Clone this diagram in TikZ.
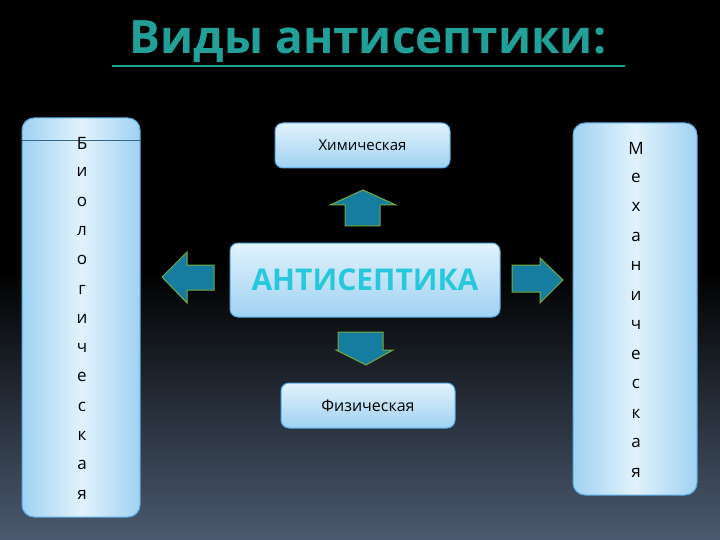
\documentclass[tikz,border=0pt]{standalone}
\usepackage{fontspec}
\setmainfont{Open Sans}
\definecolor{ttl}{RGB}{32,160,150}
\definecolor{arrf}{RGB}{22,125,160}
\definecolor{arrd}{RGB}{120,170,60}
\definecolor{bxt}{RGB}{225,242,252}
\definecolor{bxb}{RGB}{160,210,242}
\definecolor{bxd}{RGB}{90,170,225}
\definecolor{bgb}{RGB}{75,90,112}
\definecolor{ctxt}{RGB}{40,200,220}
\tikzset{
 box/.style={rounded corners=8pt, draw=bxd, line width=1pt, top color=bxt, bottom color=bxb},
 side/.style={rounded corners=12pt, draw=bxd, line width=1pt, left color=bxb, right color=bxb, middle color=bxt},
 arr/.style={fill=arrf, draw=arrd, line width=1pt},
 lt/.style={font=\fontsize{17}{17}\selectfont, text=black}
}
\begin{document}
\begin{tikzpicture}[x=1pt,y=-1pt]
\useasboundingbox (0,0) rectangle (720,540);
\shade[top color=black, bottom color=bgb, middle color=black] (0,0) rectangle (720,540);
\fill[black] (0,0) rectangle (720,270);
\node[font=\bfseries\fontsize{46}{46}\selectfont, text=ttl] (title) at (368,42) {Виды антисептики:};
\draw[ttl, line width=2.5pt] (112,66) -- (625,66);
% boxes
\draw[side] (22,118) rectangle (140,517);
\draw[bxd!60!black, line width=0.6pt] (22,140) -- (140,140);
\draw[side] (573,123) rectangle (697,495);
\node[box, minimum width=175pt, minimum height=45pt, font=\fontsize{15}{15}\selectfont] (chem) at (362.5,145.5) {Химическая};
\node[box, minimum width=270pt, minimum height=74pt, font=\bfseries\fontsize{30}{30}\selectfont, text=ctxt] (center) at (365,280) {АНТИСЕПТИКА};
\node[box, minimum width=174pt, minimum height=45pt, font=\fontsize{16}{16}\selectfont] (phys) at (368,405.5) {Физическая};
% left letters
\foreach \l [count=\i from 0] in {Б,и,о,л,о,г,и,ч,е,с,к,а,я}
  \node[lt] (b\i) at (82,{143+\i*29.3}) {\l};
\foreach \l [count=\i from 0] in {М,е,х,а,н,и,ч,е,с,к,а,я}
  \node[lt] (m\i) at (636,{148+\i*29.5}) {\l};
% arrows
\draw[arr] (345,226) -- (345,205) -- (330,205) -- (363,190) -- (396,205) -- (380,205) -- (380,226) -- cycle;
\draw[arr] (214,265) -- (187,265) -- (187,252) -- (162,277) -- (187,303) -- (187,290) -- (214,290) -- cycle;
\draw[arr] (512,265) -- (540,265) -- (540,258) -- (563,280) -- (540,303) -- (540,292) -- (512,292) -- cycle;
\draw[arr] (338,332) -- (383,332) -- (383,350) -- (393,350) -- (366,365) -- (336,350) -- (338,350) -- cycle;
\end{tikzpicture}
\end{document}
